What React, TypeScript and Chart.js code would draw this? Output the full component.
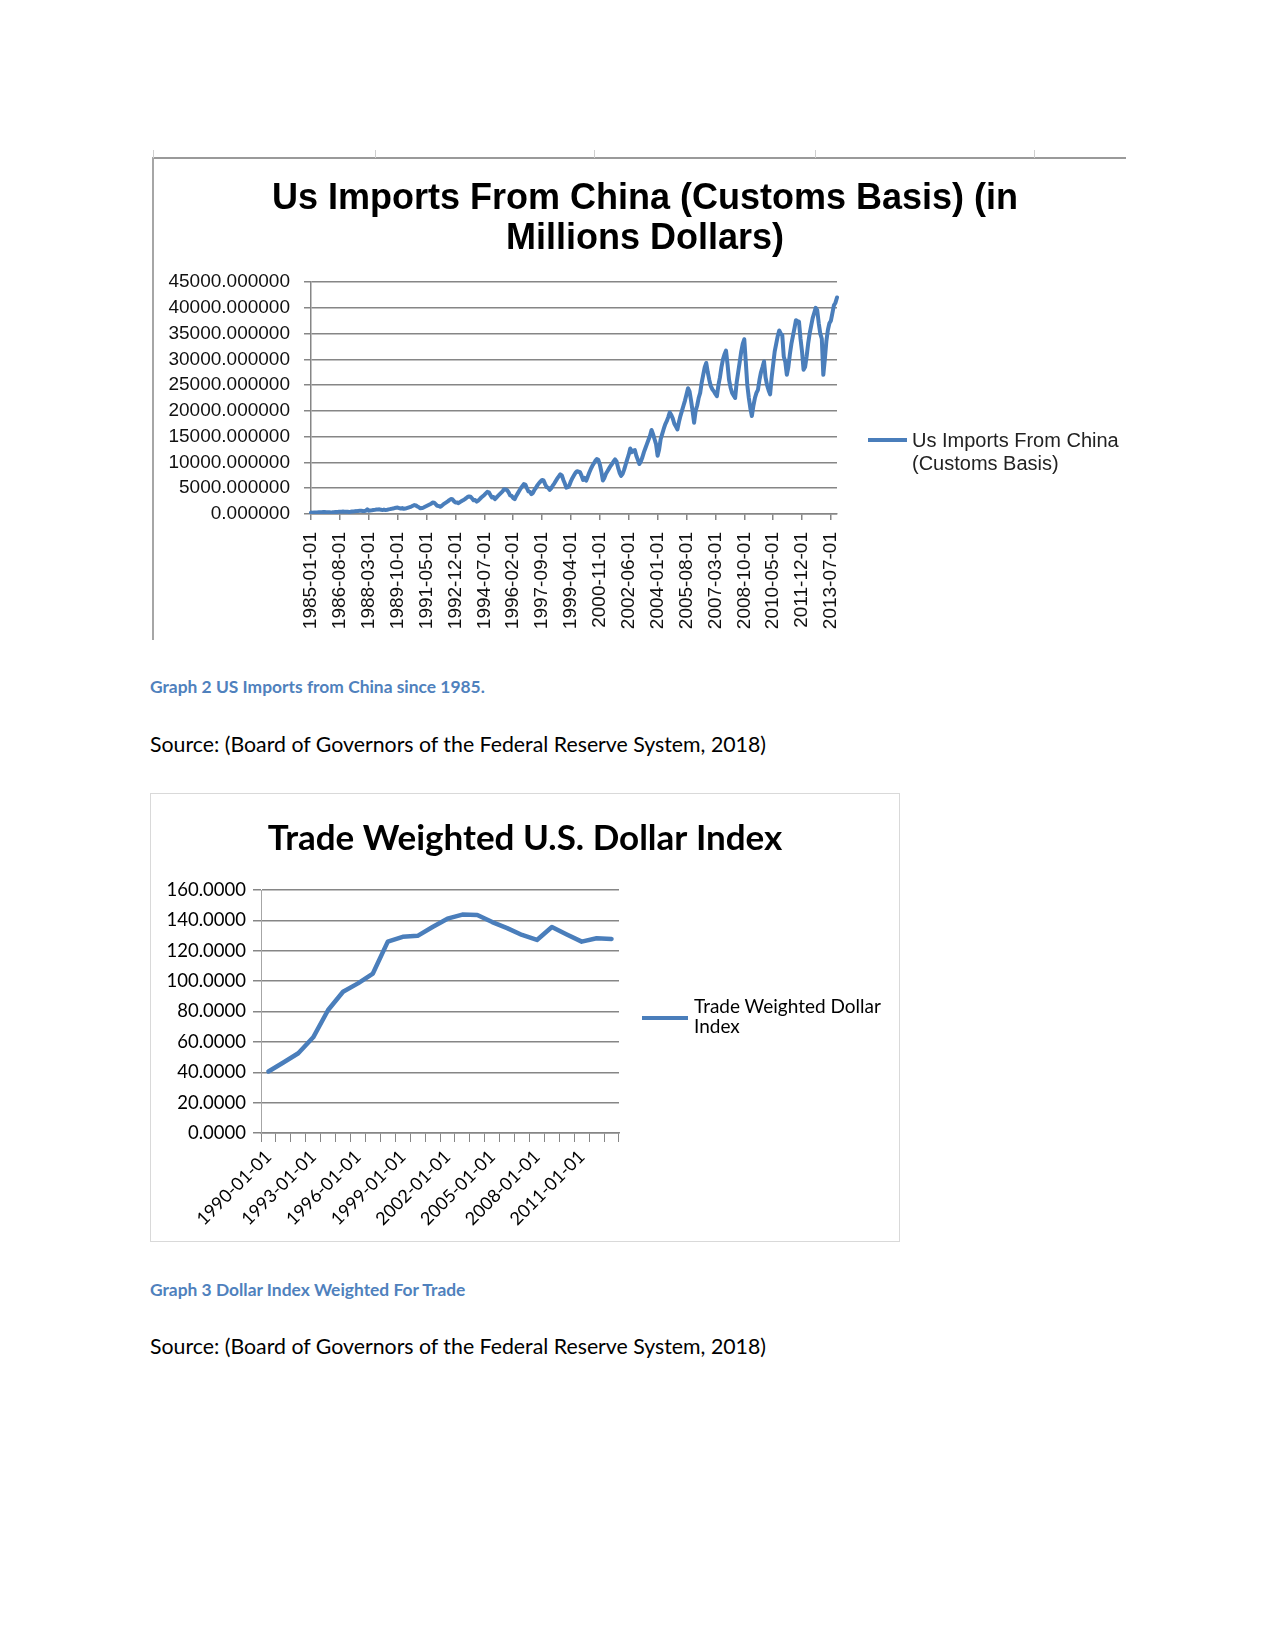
import React, { useEffect, useRef } from 'react';
import { Chart, registerables } from 'chart.js';

Chart.register(...registerables);

// ---------------- Data: US imports from China (monthly, millions $) ----------------
const IMPORT_START_YEAR = 1985;
const importsMonthly: number[] = [
  // 1985
  290, 250, 280, 300, 310, 330, 340, 360, 370, 380, 350, 320,
  // 1986
  360, 310, 330, 360, 380, 400, 420, 450, 460, 470, 440, 420,
  // 1987
  450, 390, 420, 470, 500, 530, 560, 600, 620, 640, 600, 560,
  // 1988
  620, 900, 640, 700, 720, 760, 800, 860, 880, 900, 840, 760,
  // 1989
  850, 760, 800, 900, 950, 1000, 1080, 1150, 1200, 1250, 1150, 1050,
  // 1990
  1150, 1000, 1050, 1150, 1250, 1350, 1450, 1600, 1730, 1650, 1450, 1300,
  // 1991
  1100, 1150, 1250, 1400, 1550, 1700, 1850, 2000, 2250, 2200, 1900, 1600,
  // 1992
  1550, 1400, 1600, 1850, 2050, 2250, 2450, 2700, 2900, 2850, 2500, 2250,
  // 1993
  2250, 2100, 2300, 2500, 2650, 2850, 3050, 3300, 3400, 3350, 3000, 2650,
  // 1994
  2700, 2400, 2600, 2900, 3200, 3450, 3700, 4000, 4300, 4200, 3700, 3200,
  // 1995
  3300, 2900, 3200, 3500, 3800, 4100, 4400, 4800, 4750, 4650, 4200, 3600,
  // 1996
  3500, 3100, 2900, 3500, 4000, 4500, 5000, 5400, 5800, 5700, 5000, 4400,
  // 1997
  4300, 3850, 4100, 4700, 5100, 5600, 6000, 6300, 6600, 6500, 5800, 5200,
  // 1998
  5100, 4700, 5000, 5500, 5900, 6400, 6900, 7300, 7700, 7500, 6600, 5900,
  // 1999
  5100, 5200, 5600, 6400, 7000, 7500, 8000, 8300, 8200, 8100, 7400, 6600,
  // 2000
  7000, 6470, 7200, 8000, 8700, 9300, 9800, 10300, 10640, 10500, 9600, 8200,
  // 2001
  6500, 7000, 7800, 8300, 8800, 9300, 9700, 10200, 10600, 10200, 9000, 8000,
  // 2002
  7400, 7800, 8600, 9600, 10600, 11500, 12700, 12000, 12300, 12400, 11300, 10500,
  // 2003
  9700, 10200, 11000, 12000, 12800, 13600, 14400, 15200, 16300, 15500, 14500, 13500,
  // 2004
  11300, 12500, 14500, 15500, 16500, 17400, 18000, 18800, 19700, 19200, 18500, 17500,
  // 2005
  17000, 16400, 17800, 19000, 20000, 21000, 22000, 23200, 24400, 23800, 22000, 20000,
  // 2006
  17700, 20000, 21000, 22500, 23500, 25500, 27000, 28500, 29300, 27500, 26000, 24800,
  // 2007
  24200, 23800, 23300, 22850, 25000, 26500, 28500, 30000, 31000, 31700, 29000, 26000,
  // 2008
  24500, 23500, 23000, 22500, 25500, 27500, 29500, 31500, 33000, 33900, 29500, 25000,
  // 2009
  22500, 20500, 19000, 21000, 22500, 23500, 24100, 26000, 27500, 28500, 29600, 26500,
  // 2010
  25000, 24000, 23200, 26500, 29000, 31500, 33000, 34500, 35600, 35000, 34700, 30500,
  // 2011
  29500, 27000, 28500, 31000, 33000, 34500, 36000, 37600, 37400, 37300, 34000, 31500,
  // 2012
  28000, 28500, 30500, 33000, 35000, 36500, 38000, 39000, 40000, 39500, 37000, 35000,
  // 2013
  34000, 27000, 30000, 33500, 35700, 37000, 37500, 39000, 40500, 41000, 42000,
];
const importLabels: string[] = importsMonthly.map((_, i) => {
  const y = IMPORT_START_YEAR + Math.floor(i / 12);
  const m = (i % 12) + 1;
  return `${y}-${String(m).padStart(2, '0')}-01`;
});
const IMPORT_LABEL_EVERY = 19;
const IMPORT_Y_MAX = 45000;
const IMPORT_Y_STEP = 5000;
const importTitle = ['Us Imports From China (Customs Basis) (in', 'Millions Dollars)'];
const importLegend = ['Us Imports From China', '(Customs Basis)'];

// ---------------- Data: Trade weighted dollar index (annual) ----------------
const dollarDates: string[] = [
  '1990-01-01', '1991-01-01', '1992-01-01', '1993-01-01', '1994-01-01', '1995-01-01',
  '1996-01-01', '1997-01-01', '1998-01-01', '1999-01-01', '2000-01-01', '2001-01-01',
  '2002-01-01', '2003-01-01', '2004-01-01', '2005-01-01', '2006-01-01', '2007-01-01',
  '2008-01-01', '2009-01-01', '2010-01-01', '2011-01-01', '2012-01-01', '2013-01-01',
];
const dollarIndex: number[] = [
  40.5, 46.4, 52.5, 63.0, 81.0, 93.0, 98.5, 105.0, 126.0, 129.2, 129.8, 135.6,
  141.1, 143.8, 143.6, 138.9, 134.9, 130.4, 127.1, 135.6, 130.7, 126.0, 128.2, 127.8,
];
const DOLLAR_LABEL_EVERY = 3;
const DOLLAR_Y_MAX = 160;
const DOLLAR_Y_STEP = 20;
const dollarTitle = 'Trade Weighted U.S. Dollar Index';
const dollarLegend = ['Trade Weighted Dollar', 'Index'];

// ---------------- Styles ----------------
const ARIAL = "'Liberation Sans', Arial, Helvetica, sans-serif";
const LATO = "Lato, 'Open Sans', sans-serif";
const BLUE = '#4a7ebb';
const GRID = '#868686';
const CAPTION_BLUE = '#4f81bd';

if (typeof document !== 'undefined') {
  document.body.style.margin = '0';
  document.body.style.background = '#ffffff';
}

function ImportsChart() {
  const ref = useRef<HTMLCanvasElement>(null);
  useEffect(() => {
    const chart = new Chart(ref.current!, {
      type: 'line',
      data: {
        labels: importLabels,
        datasets: [
          {
            label: importLegend.join(' '),
            data: importsMonthly,
            borderColor: BLUE,
            borderWidth: 4,
            pointRadius: 0,
            tension: 0,
            fill: false,
            borderJoinStyle: 'round',
            borderCapStyle: 'round',
          },
        ],
      },
      options: {
        responsive: false,
        animation: false,
        devicePixelRatio: 1,
        layout: { padding: 0 },
        plugins: {
          legend: { display: false },
          tooltip: { enabled: false },
          title: {
            display: true,
            text: importTitle,
            color: '#000',
            font: { family: ARIAL, size: 36, weight: 'bold', lineHeight: 1.12 },
            padding: { top: 21, bottom: 22.4 },
          },
        },
        scales: {
          x: {
            type: 'category',
            offset: false,
            grid: { display: true, drawOnChartArea: false, drawTicks: true, tickLength: 6, color: GRID, lineWidth: 1.5 },
            border: { display: true, color: GRID, width: 1.5 },
            ticks: {
              autoSkip: false,
              minRotation: 90,
              maxRotation: 90,
              padding: 12,
              color: '#111',
              font: { family: ARIAL, size: 19 },
            },
            afterBuildTicks: (axis: any) => {
              axis.ticks = axis.ticks.filter((t: any) => t.value % IMPORT_LABEL_EVERY === 0);
            },
            afterFit: (axis: any) => {
              axis.height = 126;
            },
          },
          y: {
            min: 0,
            max: IMPORT_Y_MAX,
            grid: { color: GRID, lineWidth: 1.5, tickLength: 7, drawTicks: true },
            border: { display: true, color: GRID, width: 1.5 },
            ticks: {
              stepSize: IMPORT_Y_STEP,
              autoSkip: false,
              maxTicksLimit: 20,
              padding: 14,
              color: '#111',
              font: { family: ARIAL, size: 19 },
              callback: (v: any) => Number(v).toFixed(6),
            },
            afterFit: (axis: any) => {
              axis.width = 158;
            },
          },
          legendSpace: {
            type: 'linear',
            position: 'right',
            display: true,
            grid: { display: false, drawTicks: false },
            border: { display: false },
            ticks: { display: false },
            afterFit: (axis: any) => {
              axis.width = 300;
            },
          },
        },
      } as any,
    });
    return () => chart.destroy();
  }, []);
  return (
    <canvas
      ref={ref}
      width={984}
      height={482}
      style={{ position: 'absolute', left: 153, top: 158, width: 984, height: 482 }}
    />
  );
}

function DollarChart() {
  const ref = useRef<HTMLCanvasElement>(null);
  useEffect(() => {
    const chart = new Chart(ref.current!, {
      type: 'line',
      data: {
        labels: dollarDates,
        datasets: [
          {
            label: dollarLegend.join(' '),
            data: dollarIndex,
            borderColor: BLUE,
            borderWidth: 4.5,
            pointRadius: 0,
            tension: 0,
            fill: false,
            borderJoinStyle: 'round',
            borderCapStyle: 'round',
          },
        ],
      },
      options: {
        responsive: false,
        animation: false,
        devicePixelRatio: 1,
        layout: { padding: 0 },
        plugins: {
          legend: { display: false },
          tooltip: { enabled: false },
          title: {
            display: true,
            text: dollarTitle,
            color: '#000',
            font: { family: LATO, size: 35, weight: 'bold', lineHeight: 1.2 },
            padding: { top: 24, bottom: 30 },
          },
        },
        scales: {
          x: {
            type: 'category',
            offset: true,
            grid: { display: true, offset: true, drawOnChartArea: false, drawTicks: true, tickLength: 9, color: GRID, lineWidth: 1 },
            border: { display: true, color: GRID, width: 1.5 },
            ticks: {
              autoSkip: false,
              minRotation: 45,
              maxRotation: 45,
              padding: 4,
              color: '#000',
              font: { family: LATO, size: 18 },
              callback: function (this: any, v: any, i: number) {
                return i % DOLLAR_LABEL_EVERY === 0 ? this.getLabelForValue(v) : '';
              },
            },
            afterFit: (axis: any) => {
              axis.height = 109;
            },
          },
          y: {
            min: 0,
            max: DOLLAR_Y_MAX,
            grid: { color: GRID, lineWidth: 1.5, tickLength: 8, drawTicks: true },
            border: { display: true, color: '#a6a6a6', width: 1 },
            ticks: {
              stepSize: DOLLAR_Y_STEP,
              autoSkip: false,
              padding: 7,
              color: '#000',
              font: { family: LATO, size: 18.5 },
              callback: (v: any) => Number(v).toFixed(4),
            },
            afterFit: (axis: any) => {
              axis.width = 111;
            },
          },
          legendSpace: {
            type: 'linear',
            position: 'right',
            display: true,
            grid: { display: false, drawTicks: false },
            border: { display: false },
            ticks: { display: false },
            afterFit: (axis: any) => {
              axis.width = 281;
            },
          },
        },
      } as any,
    });
    return () => chart.destroy();
  }, []);
  return (
    <canvas
      ref={ref}
      width={750}
      height={448}
      style={{ position: 'absolute', left: 150, top: 794, width: 750, height: 448 }}
    />
  );
}

const abs = (left: number, top: number, extra: React.CSSProperties = {}): React.CSSProperties => ({
  position: 'absolute',
  left,
  top,
  whiteSpace: 'nowrap',
  ...extra,
});

export default function App() {
  const topTicks = [153, 375, 594, 815, 1034];
  return (
    <div style={{ position: 'relative', width: 1275, height: 1650, background: '#fff', overflow: 'hidden' }}>
      {/* Chart 1 frame */}
      <div style={abs(153, 157, { width: 973, height: 2, background: '#9a9a9a' })} />
      <div style={abs(152, 157, { width: 2, height: 483, background: '#a6a6a6' })} />
      {topTicks.map((x) => (
        <div key={x} style={abs(x, 150, { width: 1, height: 8, background: '#cfcfcf' })} />
      ))}
      <ImportsChart />
      {/* Chart 1 legend */}
      <div style={abs(868, 438, { width: 39, height: 4, background: BLUE })} />
      <div style={abs(912, 429, { fontFamily: ARIAL, fontSize: 20, lineHeight: '23px', color: '#222' })}>
        {importLegend.map((t) => (
          <div key={t}>{t}</div>
        ))}
      </div>

      {/* Captions 1 */}
      <div style={abs(150, 676, { fontFamily: LATO, fontSize: 17.4, fontWeight: 'bold', lineHeight: '22px', color: CAPTION_BLUE })}>
        Graph 2 US Imports from China since 1985.
      </div>
      <div style={abs(150, 731, { fontFamily: LATO, fontSize: 21.3, lineHeight: '26px', color: '#000' })}>
        Source: (Board of Governors of the Federal Reserve System, 2018)
      </div>

      {/* Chart 2 frame */}
      <div style={abs(150, 793, { width: 750, height: 449, border: '1.5px solid #d9d9d9', boxSizing: 'border-box' })} />
      <DollarChart />
      <div style={abs(642, 1016, { width: 46, height: 4, background: BLUE })} />
      <div style={abs(694, 996, { fontFamily: LATO, fontSize: 19, lineHeight: '20px', color: '#000' })}>
        {dollarLegend.map((t) => (
          <div key={t}>{t}</div>
        ))}
      </div>

      {/* Captions 2 */}
      <div style={abs(150, 1279, { fontFamily: LATO, fontSize: 17.4, fontWeight: 'bold', lineHeight: '22px', color: CAPTION_BLUE })}>
        Graph 3 Dollar Index Weighted For Trade
      </div>
      <div style={abs(150, 1333, { fontFamily: LATO, fontSize: 21.3, lineHeight: '26px', color: '#000' })}>
        Source: (Board of Governors of the Federal Reserve System, 2018)
      </div>
    </div>
  );
}
